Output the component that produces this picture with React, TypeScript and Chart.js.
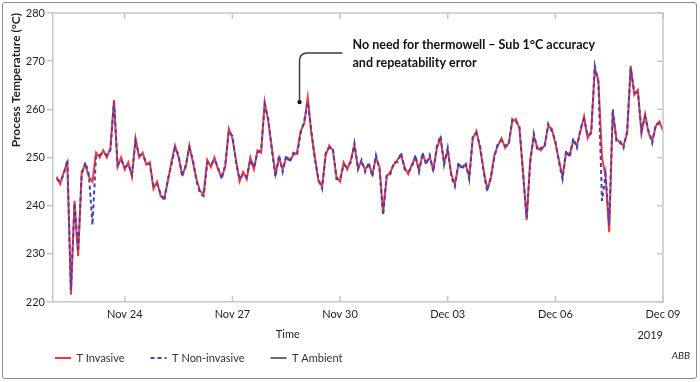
import React, { useEffect, useRef } from 'react';
import { Chart, registerables } from 'chart.js';

Chart.register(...registerables);

// ---- data (x = days after Nov 22, 2019 00:00) ----
const START_DAY = 0.1;
const STEP_DAY = 0.1;

const tInvasive: number[] = [
  246, 244.5, 247, 249, 221.5, 241, 229.5, 247, 248.5, 246,
  245, 251, 250, 251.5, 250, 252, 262, 248, 250, 247.5,
  249, 246, 254, 250, 251, 248.5, 249, 243.5, 245, 242,
  241.5, 245, 249, 252.5, 250, 246.5, 248, 252.5, 249, 245.5,
  243, 242.5, 249.5, 248, 250, 247.5, 246, 248, 256, 254,
  249.5, 245, 247, 245.5, 250, 247.5, 251.5, 251, 261.5, 257.5,
  252, 246.5, 250, 247.5, 250, 249.5, 250.5, 251, 255.5, 257,
  262.5, 255, 250, 245, 244, 250.5, 252.5, 251.5, 246, 245,
  249, 247.5, 249.5, 252.5, 248, 249, 247.5, 248.5, 246.5, 250,
  248, 238.5, 246, 247, 248.5, 249.5, 250.5, 248, 246.5, 248.5,
  250, 247.5, 250.5, 249, 250, 247.5, 252, 254, 249, 251.5,
  246.5, 244.5, 248.5, 248, 248.5, 246, 254, 255.5, 252, 247.5,
  243.5, 245.5, 250.5, 252.5, 254, 252, 253, 257.5, 258, 256,
  247, 237, 249.5, 254.5, 252, 251.5, 252.5, 256.5, 256, 253,
  249.5, 246, 251, 250.5, 253.5, 252.5, 255.5, 258.5, 254, 255.5,
  268.5, 266, 250, 246, 234.5, 259.5, 254, 253, 252.5, 255,
  269, 263, 264, 255, 259, 255, 253.5, 256.5, 257.5, 255.5,
];

const tNonInvasive: number[] = [
  245.5, 245, 246.5, 249.5, 222.5, 240.5, 230.5, 246.5, 249, 246.5,
  236, 250.5, 250.5, 251, 250.5, 251.5, 261.5, 248.5, 249.5, 248,
  248.5, 246.5, 253.5, 250.5, 250.5, 249, 248.5, 244, 244.5, 242.5,
  241, 245.5, 248.5, 252, 250.5, 246, 248.5, 252, 249.5, 245,
  242.5, 242, 249, 248.5, 249.5, 248, 245.5, 248.5, 255.5, 254.5,
  249, 245.5, 246.5, 246, 249.5, 248, 251, 251.5, 261, 258,
  251.5, 246, 250.5, 247, 250.5, 249, 251, 250.5, 255, 257.5,
  261.5, 255.5, 249.5, 245.5, 243.5, 251, 252, 252, 245.5, 245.5,
  248.5, 248, 249, 253, 247.5, 249.5, 247, 249, 246, 250.5,
  247.5, 238, 246.5, 246.5, 249, 249, 251, 247.5, 247, 248,
  250.5, 247, 251, 248.5, 250.5, 247, 252.5, 254.5, 248.5, 252,
  246, 244, 249, 247.5, 249, 245.5, 254.5, 255, 252.5, 247,
  243, 246, 250, 253, 253.5, 252.5, 252.5, 258, 257.5, 256.5,
  246.5, 237.5, 249, 255, 251.5, 252, 252, 257, 255.5, 253.5,
  249, 245.5, 251.5, 250, 254, 252, 256, 258, 254.5, 255,
  269, 265.5, 241, 246.5, 236, 260, 253.5, 253.5, 252, 255.5,
  268.5, 263.5, 263.5, 255.5, 258.5, 255.5, 253, 257, 257, 256,
];

const tAmbient: number[] = [];

const seriesNames = ['T Invasive', 'T Non-invasive', 'T Ambient'];
const xTickDays = [2, 5, 8, 11, 14, 17];
const xTickLabels = ['Nov 24', 'Nov 27', 'Nov 30', 'Dec 03', 'Dec 06', 'Dec 09'];
const X_MIN = 0;
const X_MAX = 17;
const Y_MIN = 220;
const Y_MAX = 280;
const Y_STEP = 10;
const xTitle = 'Time';
const yTitle = 'Process Temperature (°C)';
const yearLabel = '2019';
const sourceLabel = 'ABB';
const annotationLines = ['No need for thermowell – Sub 1°C accuracy', 'and repeatability error'];
const annotationPoint = { day: 6.87, value: 261.5 };

// ---- styles ----
const FONT = 'Lato, "Open Sans", sans-serif';
const AXIS = '#c6c6c6';
const TEXT = '#1f1f1f';
const RED = '#ff3535';
const BLUE = '#4343b2';

const toPoints = (vals: number[]) =>
  vals.map((v, i) => ({ x: +(START_DAY + i * STEP_DAY).toFixed(2), y: v }));

const overlayPlugin = {
  id: 'overlay',
  afterLayout(chart: any) {
    const lg = chart.legend;
    if (lg) {
      lg.left = 29;
      lg.top = 326.5;
    }
  },
  afterDraw(chart: any) {
    const { ctx, chartArea: ca, scales } = chart;
    const xs = scales.x;
    const ys = scales.y;
    ctx.save();
    // frame top & right
    ctx.strokeStyle = AXIS;
    ctx.lineWidth = 1.5;
    ctx.beginPath();
    ctx.moveTo(ca.left, ca.top);
    ctx.lineTo(ca.right, ca.top);
    ctx.lineTo(ca.right, ca.bottom);
    ctx.stroke();
    // inward ticks
    ctx.beginPath();
    xTickDays.forEach((d) => {
      const px = xs.getPixelForValue(d);
      ctx.moveTo(px, ca.top);
      ctx.lineTo(px, ca.top + 6);
      ctx.moveTo(px, ca.bottom);
      ctx.lineTo(px, ca.bottom - 6);
    });
    for (let v = Y_MIN; v <= Y_MAX; v += Y_STEP) {
      const py = ys.getPixelForValue(v);
      ctx.moveTo(ca.right, py);
      ctx.lineTo(ca.right - 6, py);
    }
    ctx.stroke();

    // axis texts
    ctx.fillStyle = TEXT;
    ctx.font = `11px ${FONT}`;
    ctx.textBaseline = 'middle';
    ctx.textAlign = 'center';
    ctx.fillText(xTitle, ca.left + (ca.right - ca.left) * 0.385, ca.bottom + 32);
    ctx.textAlign = 'right';
    ctx.fillText(yearLabel, ca.right, ca.bottom + 33);
    ctx.font = `italic 10px ${FONT}`;
    ctx.fillText(sourceLabel, 690, 356);

    // callout
    const px = xs.getPixelForValue(annotationPoint.day);
    const py = ys.getPixelForValue(annotationPoint.value);
    const hy = ca.top + 40;
    const r = 8;
    ctx.strokeStyle = '#3a3a3a';
    ctx.lineWidth = 1.5;
    ctx.beginPath();
    ctx.moveTo(px, py);
    ctx.lineTo(px, hy + r);
    ctx.quadraticCurveTo(px, hy, px + r, hy);
    ctx.lineTo(px + 43, hy);
    ctx.stroke();
    ctx.fillStyle = '#111';
    ctx.beginPath();
    ctx.arc(px, py, 2.2, 0, Math.PI * 2);
    ctx.fill();

    ctx.font = `bold 12.5px ${FONT}`;
    ctx.textAlign = 'left';
    ctx.fillStyle = '#111';
    ctx.fillText(annotationLines[0], px + 53, ca.top + 32);
    ctx.fillText(annotationLines[1], px + 53, ca.top + 50);
    ctx.restore();
  },
};

export default function App() {
  const canvasRef = useRef<HTMLCanvasElement | null>(null);

  useEffect(() => {
    if (!canvasRef.current) return;
    const chart = new Chart(canvasRef.current, {
      type: 'line',
      data: {
        datasets: [
          {
            label: seriesNames[0],
            data: toPoints(tInvasive),
            borderColor: RED,
            backgroundColor: RED,
            borderWidth: 2,
            pointRadius: 0,
            pointStyle: 'line',
            tension: 0,
            fill: false,
            order: 2,
          },
          {
            label: seriesNames[1],
            data: toPoints(tNonInvasive),
            borderColor: BLUE,
            backgroundColor: BLUE,
            borderWidth: 2,
            borderDash: [4, 3],
            pointRadius: 0,
            pointStyle: 'line',
            tension: 0,
            fill: false,
            order: 1,
          },
          {
            label: seriesNames[2],
            data: toPoints(tAmbient),
            borderColor: '#3a3a3a',
            backgroundColor: '#3a3a3a',
            borderWidth: 1.5,
            pointRadius: 0,
            pointStyle: 'line',
            fill: false,
            order: 0,
          },
        ],
      },
      options: {
        responsive: false,
        maintainAspectRatio: false,
        animation: false,
        layout: { padding: { left: 0, right: 37, top: 13, bottom: 0 } },
        scales: {
          x: {
            type: 'linear',
            min: X_MIN,
            max: X_MAX,
            afterBuildTicks: (s: any) => {
              s.ticks = xTickDays.map((v) => ({ value: v }));
            },
            afterFit: (s: any) => {
              s.height = 33;
            },
            ticks: {
              autoSkip: false,
              maxRotation: 0,
              padding: 6,
              color: TEXT,
              font: { family: FONT, size: 11 },
              callback: (v: any) => {
                const i = xTickDays.indexOf(Number(v));
                return i >= 0 ? xTickLabels[i] : '';
              },
            },
            grid: { display: false, drawTicks: false, tickLength: 0 },
            border: { display: true, color: AXIS, width: 1.5 },
          },
          y: {
            min: Y_MIN,
            max: Y_MAX,
            afterFit: (s: any) => {
              s.width = 53;
            },
            ticks: {
              stepSize: Y_STEP,
              padding: 2,
              color: TEXT,
              font: { family: FONT, size: 11 },
            },
            grid: { drawOnChartArea: false, drawTicks: true, tickLength: 6, color: AXIS, lineWidth: 1.5 },
            border: { display: true, color: AXIS, width: 1.5 },
            title: {
              display: true,
              text: yTitle,
              align: 'end',
              color: TEXT,
              font: { family: FONT, size: 12, weight: 'bold' },
              padding: { top: 9, bottom: 0 },
            },
          },
        },
        plugins: {
          legend: {
            position: 'bottom',
            align: 'start',
            labels: {
              usePointStyle: true,
              pointStyle: 'line',
              pointStyleWidth: 16,
              padding: 26,
              color: '#333',
              font: { family: FONT, size: 11 },
              sort: (a: any, b: any) => a.datasetIndex - b.datasetIndex,
              generateLabels: (ch: any) => {
                const items = (Chart as any).defaults.plugins.legend.labels.generateLabels(ch);
                return items.map((it: any) => {
                  const ds = ch.data.datasets[it.datasetIndex];
                  return {
                    ...it,
                    pointStyle: 'line',
                    lineDash: ds.borderDash || [],
                    lineWidth: ds.borderWidth,
                    strokeStyle: ds.borderColor,
                    fillStyle: ds.borderColor,
                  };
                });
              },
            },
          },
          tooltip: { enabled: false },
        },
      } as any,
      plugins: [overlayPlugin],
    });
    return () => chart.destroy();
  }, []);

  return (
    <div style={{ position: 'absolute', left: 0, top: 0, width: 700, height: 382, background: '#fff' }}>
      <div
        style={{
          position: 'absolute',
          left: 2,
          top: 2,
          width: 693,
          height: 375,
          border: '1.5px solid #8a8a8a',
          borderRadius: 3,
        }}
      />
      <canvas
        ref={canvasRef}
        width={700}
        height={382}
        style={{ position: 'absolute', left: 0, top: 0, width: 700, height: 382 }}
      />
    </div>
  );
}
